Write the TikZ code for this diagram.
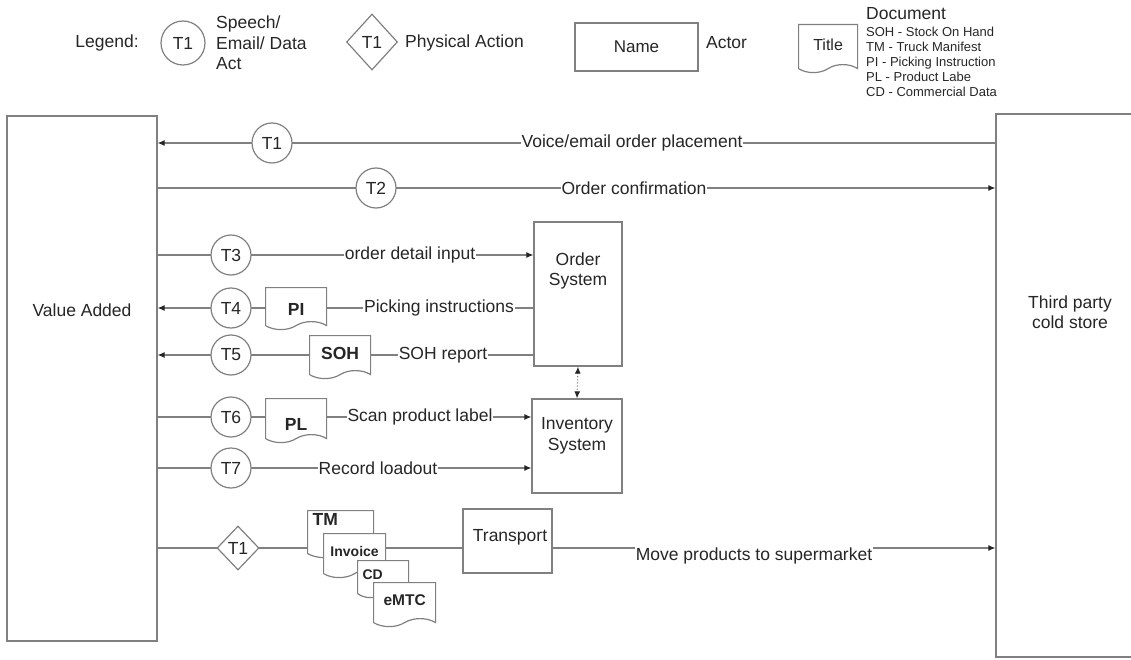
\documentclass[tikz,border=0pt]{standalone}
\usepackage{fontspec}
\setmainfont{Liberation Sans}
\usetikzlibrary{arrows.meta,positioning,shapes.geometric,shapes.symbols,backgrounds}
\definecolor{linegray}{HTML}{808080}
\definecolor{inkgray}{HTML}{262626}

\begin{document}
\begin{tikzpicture}[x=1pt, y=-1pt, >={Latex[length=7pt,width=6pt,color=inkgray]},
	every node/.style={font=\fontsize{17.5}{20.5}\selectfont, text=inkgray, inner sep=2pt},
	actor/.style={draw=linegray, line width=1.3pt, fill=white, inner sep=0pt},
	act/.style={draw=linegray, line width=1.2pt, circle, fill=white, minimum size=40pt, inner sep=0pt},
	phys/.style={draw=linegray, line width=1.2pt, diamond, fill=white, inner sep=0pt},
	docu/.style={draw=linegray, line width=1.2pt, tape, tape bend top=none, tape bend bottom=in and out,
		tape bend height=8pt, fill=white, inner sep=0pt, anchor=north west,
		font=\fontsize{17.5}{20.5}\selectfont\bfseries},
	flow/.style={draw=linegray, line width=1.1pt},
	lbl/.style={fill=white, inner sep=1pt}]
	\useasboundingbox (0,0) rectangle (1131,660);

	% legend
	\node (leg) at (107,43) {Legend:};
	\node[act, minimum size=44pt] (legact) at (183,43) {T1};
	\node[anchor=west, align=left] (legacttxt) at (214,43) {Speech/\\Email/ Data\\Act};
	\node[phys, minimum width=51pt, minimum height=56pt] (legphys) at (372,42) {T1};
	\node[anchor=west] (legphystxt) at (403,43) {Physical Action};
	\node[actor, minimum width=123pt, minimum height=48pt, font=\fontsize{17}{20}\selectfont] (legactor) at (636.5,47) {Name};
	\node[anchor=west] (legactortxt) at (704,43) {Actor};
	\node[docu, minimum width=59pt, minimum height=48pt, font=\fontsize{16}{19}\selectfont] (legdoc) at (798,24) {Title};
	\node[anchor=west] (legdoctxt) at (864,14) {Document};
	\node[anchor=west, align=left, font=\fontsize{13}{15}\selectfont] (leglist) at (864,62)
		{SOH - Stock On Hand\\TM - Truck Manifest\\PI - Picking Instruction\\PL - Product Labe\\CD - Commercial Data};

	% actors
	\node[actor, minimum width=150pt, minimum height=525pt] (va) at (82,378.5) {};
	\node (vatxt) at (82,310) {Value Added};
	\node[actor, minimum width=148pt, minimum height=543pt] (tp) at (1070,385.5) {};
	\node[align=center] (tptxt) at (1070,312) {Third party\\cold store};
	\node[actor, minimum width=88pt, minimum height=144pt] (os) at (578,294) {};
	\node[align=center] (ostxt) at (578,271) {Order\\System};
	\node[actor, minimum width=90pt, minimum height=94pt] (inv) at (577,446) {};
	\node[align=center] (invtxt) at (577,436) {Inventory\\System};
	\node[actor, minimum width=89pt, minimum height=64pt] (tr) at (507.5,541) {};
	\node (trtxt) at (510,537) {Transport};

	% acts
	\foreach \n/\x/\y in {1/272/143, 2/376/188, 3/231/255, 4/231/308, 5/231/355, 6/231/417, 7/231/468}
		\node[act] (t\n) at (\x,\y) {T\n};
	\node[phys, minimum width=42pt, minimum height=44pt] (p1) at (238,548) {T1};

	% documents
	\node[docu, minimum width=61pt, minimum height=42pt, text height=21pt] (pi) at (265,287) {PI};
	\node[docu, minimum width=61pt, minimum height=43pt] (soh) at (309,335) {SOH};
	\node[docu, minimum width=61pt, minimum height=44pt, text height=27pt] (pl) at (265,398) {PL};
	\node[docu, minimum width=66pt, minimum height=47pt, text width=56pt, align=left, text depth=22pt] (tm) at (307,510) {TM};
	\node[docu, minimum width=62pt, minimum height=44pt, font=\fontsize{14}{16}\selectfont\bfseries] (invc) at (323,533) {Invoice};
	\node[docu, minimum width=51pt, minimum height=37pt, text width=41pt, align=left,
		font=\fontsize{14}{16}\selectfont\bfseries] (cd) at (357,560) {CD};
	\node[docu, minimum width=62pt, minimum height=44pt, font=\fontsize{15.5}{18}\selectfont\bfseries] (emtc) at (373,582) {eMTC};

	% labels
	\node[lbl] (l1) at (632,143) {Voice/email order placement};
	\node[lbl] (l2) at (634,188) {Order confirmation};
	\node[lbl] (l3) at (410,255) {order detail input};
	\node[lbl] (l4) at (439,308) {Picking instructions};
	\node[lbl] (l5) at (443,355) {SOH report};
	\node[lbl] (l6) at (420,417) {Scan product label};
	\node[lbl] (l7) at (378,468) {Record loadout};
	\node[lbl] (l8) at (754,556) {Move products to supermarket};

	% connectors
	\begin{scope}[on background layer]
		\draw[flow,->] (tp.west |- t1) -- (va.east |- t1);
		\draw[flow,->] (va.east |- t2) -- (tp.west |- t2);
		\draw[flow,->] (va.east |- t3) -- (os.west |- t3);
		\draw[flow,->] (os.west |- t4) -- (va.east |- t4);
		\draw[flow,->] (os.west |- t5) -- (va.east |- t5);
		\draw[flow,->] (va.east |- t6) -- (inv.west |- t6);
		\draw[flow,->] (va.east |- t7) -- (inv.west |- t7);
		\draw[flow] (va.east |- p1) -- (tr.west |- p1);
		\draw[flow,->] (tr.east |- p1) -- (tp.west |- p1);
		\draw[flow, dotted, <->] (os.south) -- (inv.north);
	\end{scope}
\end{tikzpicture}
\end{document}
